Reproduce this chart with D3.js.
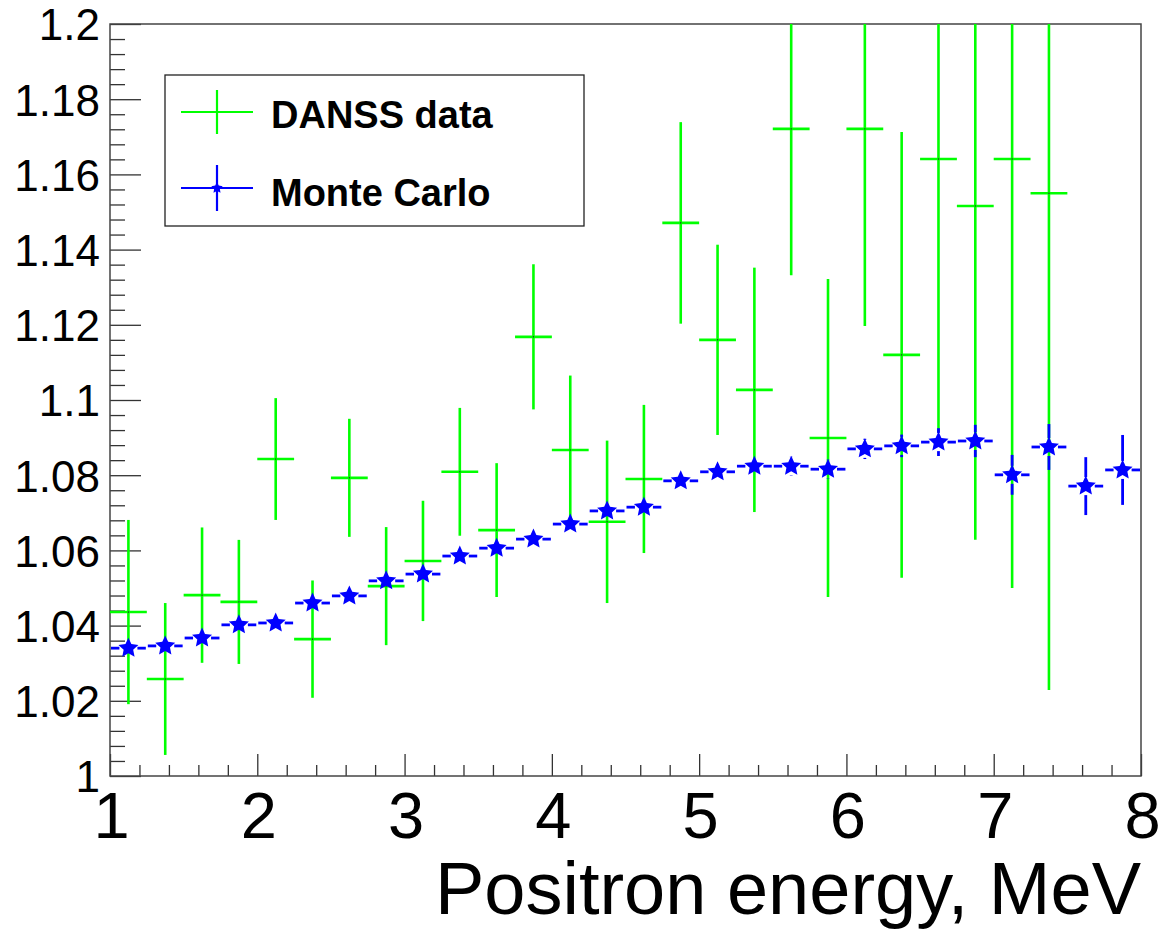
<!DOCTYPE html>
<html>
<head>
<meta charset="utf-8">
<script src="https://cdn.jsdelivr.net/npm/d3@7"></script>
<style>
body { margin: 0; background: #fff; }
svg { display: block; }
text { font-family: "Liberation Sans", Arial, Helvetica, sans-serif; fill: #000; }
</style>
</head>
<body>
<div id="chart"></div>
<script>
// Bin centres (MeV), bin width 0.25
const energy = [1.125, 1.375, 1.625, 1.875, 2.125, 2.375, 2.625, 2.875, 3.125, 3.375,
                3.625, 3.875, 4.125, 4.375, 4.625, 4.875, 5.125, 5.375, 5.625, 5.875,
                6.125, 6.375, 6.625, 6.875, 7.125, 7.375, 7.625, 7.875];
const binHalfWidth = 0.125;

// DANSS data ratio and errors (first 26 bins)
const danssRatio = [1.0436, 1.0258, 1.0481, 1.0463, 1.0843, 1.0364, 1.0793, 1.0505, 1.0572, 1.0809,
                    1.0654, 1.1168, 1.0867, 1.0676, 1.0790, 1.1471, 1.1160, 1.1027, 1.1721, 1.0899,
                    1.1721, 1.1120, 1.1641, 1.1516, 1.1641, 1.1550];
const danssErr = [0.0245, 0.0202, 0.0180, 0.0165, 0.0162, 0.0156, 0.0157, 0.0157, 0.0160, 0.0170,
                  0.0178, 0.0193, 0.0198, 0.0216, 0.0197, 0.0268, 0.0253, 0.0325, 0.0389, 0.0423,
                  0.0524, 0.0593, 0.0726, 0.0888, 0.1141, 0.1321];

// Monte Carlo ratio and errors
const mcRatio = [1.0340, 1.0346, 1.0367, 1.0402, 1.0407, 1.0460, 1.0479, 1.0519, 1.0537, 1.0585,
                 1.0606, 1.0630, 1.0670, 1.0705, 1.0715, 1.0785, 1.0809, 1.0824, 1.0824, 1.0816,
                 1.0870, 1.0878, 1.0888, 1.0891, 1.0801, 1.0875, 1.0771, 1.0814];
const mcErr = [0.0015, 0.0015, 0.0015, 0.0015, 0.0016, 0.0016, 0.0016, 0.0017, 0.0017, 0.0018,
               0.0018, 0.0019, 0.0019, 0.0020, 0.0021, 0.0022, 0.0023, 0.0024, 0.0025, 0.0025,
               0.0027, 0.0030, 0.0037, 0.0043, 0.0053, 0.0061, 0.0077, 0.0093];

const xTickLabels = ["1", "2", "3", "4", "5", "6", "7", "8"];
const yTickLabels = ["1", "1.02", "1.04", "1.06", "1.08", "1.1", "1.12", "1.14", "1.16", "1.18", "1.2"];
const legendLabels = ["DANSS data", "Monte Carlo"];

const width = 1164, height = 938;
const frameLeft = 110, frameRight = 1141, frameTop = 24, frameBottom = 776;

const svg = d3.select('#chart').append('svg')
    .attr('width', width)
    .attr('height', height);

svg.append('rect').attr('width', width).attr('height', height).attr('fill', '#fff');

const x = d3.scaleLinear().domain([1, 8]).range([frameLeft, frameRight]);
const y = d3.scaleLinear().domain([1, 1.2]).range([frameBottom, frameTop]);

svg.append('clipPath').attr('id', 'plotClip')
  .append('rect')
    .attr('x', frameLeft).attr('y', frameTop)
    .attr('width', frameRight - frameLeft).attr('height', frameBottom - frameTop);

// ROOT-like full star (marker 29), fatter than d3.symbolStar
function starPath(R, r) {
    const pts = [];
    for (let i = 0; i < 10; i++) {
        const a = -Math.PI / 2 + i * Math.PI / 5;
        const rad = i % 2 === 0 ? R : r;
        pts.push([rad * Math.cos(a), rad * Math.sin(a)]);
    }
    return 'M' + pts.map(p => p[0].toFixed(2) + ',' + p[1].toFixed(2)).join('L') + 'Z';
}

// Axes (ticks point inward, like ROOT)
const yMajor = yTickLabels.map(Number);
const yMinor = d3.range(0, 51).map(i => 1 + i * 0.004).filter(v => !yMajor.some(m => Math.abs(m - v) < 1e-6));
const xMajor = xTickLabels.map(Number);
const xMinor = d3.range(0, 36).map(i => 1 + i * 0.2).filter(v => !xMajor.some(m => Math.abs(m - v) < 1e-6));

const yAxisMinor = svg.append('g').attr('transform', `translate(${frameLeft},0)`)
    .call(d3.axisLeft(y).tickValues(yMinor).tickSize(-15).tickFormat(''));
const yAxisMajor = svg.append('g').attr('transform', `translate(${frameLeft},0)`)
    .call(d3.axisLeft(y).tickValues(yMajor).tickSize(-31).tickPadding(10)
        .tickFormat((d, i) => yTickLabels[i]));
yAxisMajor.selectAll('text').style('font-size', '44px').attr('dy', '0.36em');

const xAxisMinor = svg.append('g').attr('transform', `translate(0,${frameBottom})`)
    .call(d3.axisBottom(x).tickValues(xMinor).tickSize(-11).tickFormat(''));
const xAxisMajor = svg.append('g').attr('transform', `translate(0,${frameBottom})`)
    .call(d3.axisBottom(x).tickValues(xMajor).tickSize(-22).tickPadding(16)
        .tickFormat((d, i) => xTickLabels[i]));
xAxisMajor.selectAll('text').style('font-size', '65px').attr('dx', '1');

[yAxisMinor, yAxisMajor, xAxisMinor, xAxisMajor].forEach(g => {
    g.select('.domain').remove();
    g.selectAll('line').attr('stroke', '#333').attr('stroke-width', 1.3);
});

// frame
svg.append('rect')
    .attr('x', frameLeft).attr('y', frameTop)
    .attr('width', frameRight - frameLeft).attr('height', frameBottom - frameTop)
    .attr('fill', 'none')
    .attr('stroke', '#444')
    .attr('stroke-width', 1.5);

const plot = svg.append('g').attr('clip-path', 'url(#plotClip)');

// DANSS data: plain crosses
const green = '#00ff00';
const danss = danssRatio.map((v, i) => ({ x: energy[i], v: v, e: danssErr[i] }));
const dg = plot.append('g').selectAll('g').data(danss).enter().append('g');
dg.append('line')
    .attr('x1', d => x(d.x)).attr('x2', d => x(d.x))
    .attr('y1', d => y(d.v - d.e)).attr('y2', d => y(d.v + d.e))
    .attr('stroke', green).attr('stroke-width', 2.6);
dg.append('line')
    .attr('x1', d => x(d.x - binHalfWidth)).attr('x2', d => x(d.x + binHalfWidth))
    .attr('y1', d => y(d.v)).attr('y2', d => y(d.v))
    .attr('stroke', green).attr('stroke-width', 2.6);
dg.append('rect')
    .attr('x', d => x(d.x) - 0.6).attr('y', d => y(d.v) - 0.6)
    .attr('width', 1.2).attr('height', 1.2)
    .attr('fill', '#222');

// Monte Carlo: stars with error bars that stop at the marker
const gap = 9;
const blue = '#0000ff';
const mc = mcRatio.map((v, i) => ({ x: energy[i], v: v, e: mcErr[i] }));
const mg = plot.append('g').selectAll('g').data(mc).enter().append('g');
mg.append('line')
    .attr('x1', d => x(d.x - binHalfWidth) + 1).attr('x2', d => x(d.x) - gap)
    .attr('y1', d => y(d.v)).attr('y2', d => y(d.v))
    .attr('stroke', blue).attr('stroke-width', 2.8);
mg.append('line')
    .attr('x1', d => x(d.x) + gap).attr('x2', d => x(d.x + binHalfWidth) - 1)
    .attr('y1', d => y(d.v)).attr('y2', d => y(d.v))
    .attr('stroke', blue).attr('stroke-width', 2.8);
mg.filter(d => y(d.v - d.e) - y(d.v) > gap).append('line')
    .attr('x1', d => x(d.x)).attr('x2', d => x(d.x))
    .attr('y1', d => y(d.v) + gap).attr('y2', d => y(d.v - d.e))
    .attr('stroke', blue).attr('stroke-width', 2.8);
mg.filter(d => y(d.v) - y(d.v + d.e) > gap).append('line')
    .attr('x1', d => x(d.x)).attr('x2', d => x(d.x))
    .attr('y1', d => y(d.v) - gap).attr('y2', d => y(d.v + d.e))
    .attr('stroke', blue).attr('stroke-width', 2.8);
mg.append('path')
    .attr('d', starPath(10.5, 5))
    .attr('transform', d => `translate(${x(d.x)},${y(d.v)})`)
    .attr('fill', blue);

// Legend
const legend = svg.append('g');
legend.append('rect')
    .attr('x', 165).attr('y', 75).attr('width', 419).attr('height', 151)
    .attr('fill', '#fff').attr('stroke', '#222').attr('stroke-width', 1.3);

// entry 1
legend.append('line').attr('x1', 181).attr('x2', 253).attr('y1', 112).attr('y2', 112)
    .attr('stroke', green).attr('stroke-width', 2.2);
legend.append('line').attr('x1', 217).attr('x2', 217).attr('y1', 90).attr('y2', 134)
    .attr('stroke', green).attr('stroke-width', 2.2);
// entry 2
legend.append('line').attr('x1', 181).attr('x2', 253).attr('y1', 188).attr('y2', 188)
    .attr('stroke', blue).attr('stroke-width', 2.2);
legend.append('line').attr('x1', 217).attr('x2', 217).attr('y1', 165).attr('y2', 211)
    .attr('stroke', blue).attr('stroke-width', 2.2);
legend.append('path')
    .attr('d', starPath(6, 3))
    .attr('transform', 'translate(217,188)')
    .attr('fill', blue);

legend.selectAll('text.lab').data(legendLabels).enter().append('text')
    .attr('class', 'lab')
    .attr('x', 271)
    .attr('y', (d, i) => i === 0 ? 128 : 206)
    .style('font-size', '38px')
    .style('font-weight', 'bold')
    .text(d => d);

// X axis title
svg.append('text')
    .attr('x', frameRight).attr('y', 914)
    .attr('text-anchor', 'end')
    .style('font-size', '74px')
    .text('Positron energy, MeV');
</script>
</body>
</html>
